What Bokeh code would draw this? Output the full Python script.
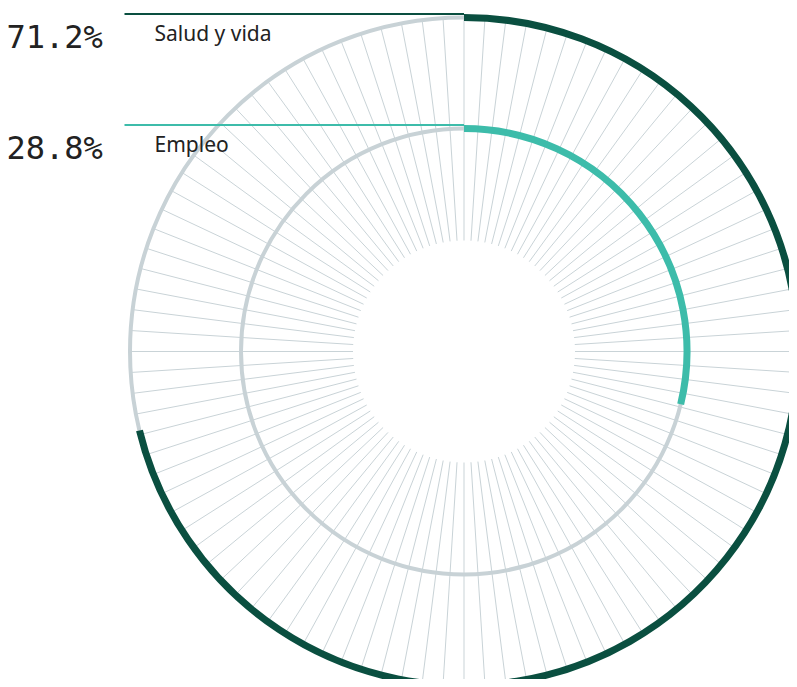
import math
from bokeh.plotting import figure
from bokeh.models import Range1d, ColumnDataSource
from bokeh.core.properties import value
from bokeh.embed import file_html
from bokeh.resources import INLINE

# ---- data ----
labels = ["Salud y vida", "Empleo"]
values = [71.2, 28.8]          # percent
colors = ["#0a4f40", "#3dbcaa"]
n_ticks = 100                  # one radial line per percent

# ---- geometry (styles) ----
cx, cy = 0.0, 0.0
radii = [334.0, 223.0]
hole_r = 111.0
track_color = "#c8d2d6"
tick_color = "#c9d3d7"

W, H = 789, 679
p = figure(width=W, height=H, output_backend="svg", toolbar_location=None,
           x_range=Range1d(-463.5, 325.5), y_range=Range1d(-328, 351),
           min_border=0)
p.axis.visible = False
p.grid.visible = False
p.outline_line_color = None
p.background_fill_color = "white"
p.border_fill_color = "white"

# radial tick lines
angs = [math.pi / 2 - k * 2 * math.pi / n_ticks for k in range(n_ticks)]
r_out = radii[0]
tick_src = ColumnDataSource(dict(
    x0=[cx + hole_r * math.cos(a) for a in angs],
    y0=[cy + hole_r * math.sin(a) for a in angs],
    x1=[cx + r_out * math.cos(a) for a in angs],
    y1=[cy + r_out * math.sin(a) for a in angs],
))
p.segment(x0="x0", y0="y0", x1="x1", y1="y1", source=tick_src,
          line_color=tick_color, line_width=1)

# grey tracks
for r in radii:
    p.arc(x=cx, y=cy, radius=r, start_angle=0, end_angle=2 * math.pi,
          line_color=track_color, line_width=4)

# value arcs
for r, v, c in zip(radii, values, colors):
    p.arc(x=cx, y=cy, radius=r, start_angle=math.pi / 2,
          end_angle=math.pi / 2 - v / 100 * 2 * math.pi,
          direction="clock", line_color=c, line_width=7)

# leader lines and labels
line_x0 = -339.5
for r, v, c, lab in zip(radii, values, colors, labels):
    yl = cy + r + 3.5
    p.segment(x0=line_x0, y0=yl, x1=cx, y1=yl, line_color=c, line_width=2)
    p.text(x=[-457.5], y=[yl - 23.2], text=[f"{v:.1f}%"],
           text_font=value("DejaVu Sans Mono"), text_font_size="32px",
           text_color="#222222", text_baseline="alphabetic", text_align="left")
    p.text(x=[-309.5], y=[yl - 19.3], text=[lab],
           text_font=value("Noto Sans"), text_font_size="21px",
           text_color="#222222", text_baseline="alphabetic", text_align="left")

open("out.html", "w").write(file_html(p, INLINE))
